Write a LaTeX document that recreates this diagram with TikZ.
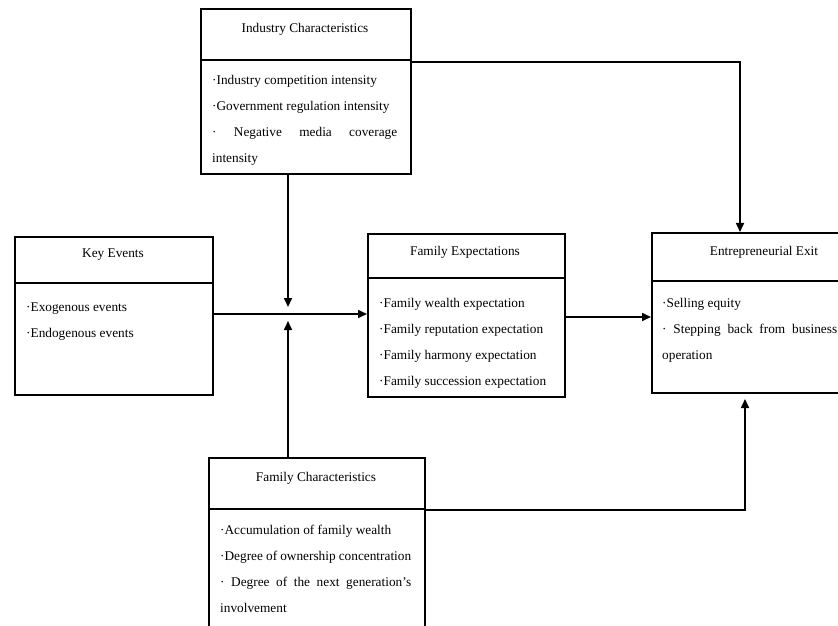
\documentclass[tikz,border=0pt]{standalone}
\usepackage{fontspec}
\setmainfont{Liberation Serif}
\usetikzlibrary{arrows.meta}
\begin{document}
\begin{tikzpicture}[x=1bp,y=-1bp,
  box/.style={draw, line width=1.6bp, rectangle, anchor=north west, inner sep=0pt},
  title/.style={font=\fontsize{13.3bp}{16bp}\selectfont, inner sep=0pt},
  items/.style={font=\fontsize{13.3bp}{26bp}\selectfont, inner sep=0pt, anchor=north west, align=justify},
  divider/.style={line width=1.6bp},
  arr/.style={line width=1.6bp, -{Triangle[length=9bp,width=8bp]}}]
\useasboundingbox (0,0) rectangle (838,626);
\fill[white] (0,0) rectangle (838,626);
% boxes
\node[box, minimum width=210bp, minimum height=165bp] (ind) at (200,8) {};
\node[box, minimum width=198bp, minimum height=158bp] (key) at (14,236) {};
\node[box, minimum width=197bp, minimum height=163bp] (exp) at (367,233) {};
\node[box, minimum width=230bp, minimum height=160bp] (exit) at (651,232) {};
\node[box, minimum width=216bp, minimum height=200bp] (fam) at (208,457) {};
% dividers
\draw[divider] (ind.west |- 0,60) -- (ind.east |- 0,60);
\draw[divider] (key.west |- 0,283) -- (key.east |- 0,283);
\draw[divider] (exp.west |- 0,278) -- (exp.east |- 0,278);
\draw[divider] (exit.west |- 0,281) -- (exit.east |- 0,281);
\draw[divider] (fam.west |- 0,509) -- (fam.east |- 0,509);
% titles
\node[title] (indt) at (305,29) {Industry Characteristics};
\node[title] (keyt) at (113,255) {Key Events};
\node[title] (expt) at (465,252) {Family Expectations};
\node[title] (exitt) at (764,252) {Entrepreneurial Exit};
\node[title] (famt) at (316,478) {Family Characteristics};
% items
\node[items, text width=185bp] (indi) at (212,75.5) {\textperiodcentered Industry competition intensity\\
\textperiodcentered Government regulation intensity\\
\textperiodcentered\ Negative media coverage\linebreak intensity};
\node[items, text width=170bp] (keyi) at (26,302.5) {\textperiodcentered Exogenous events\\
\textperiodcentered Endogenous events};
\node[items, text width=175bp] (expi) at (379,298.5) {\textperiodcentered Family wealth expectation\\
\textperiodcentered Family reputation expectation\\
\textperiodcentered Family harmony expectation\\
\textperiodcentered Family succession expectation};
\node[items, text width=175bp] (exiti) at (662,298.5) {\textperiodcentered Selling equity\\
\textperiodcentered\ Stepping back from business\linebreak operation};
\node[items, text width=191bp] (fami) at (220,524.5) {\textperiodcentered Accumulation of family wealth\\
\textperiodcentered Degree of ownership concentration\\
\textperiodcentered\ Degree of the next generation's\linebreak involvement};
% connectors
\coordinate (c1) at (740,62);
\draw[arr] (ind.east |- 0,62) -- (c1) -- (exit.north -| c1);
\coordinate (jd) at (288,307);
\coordinate (ju) at (288,321);
\draw[arr] (ind.south -| jd) -- (jd);
\draw[arr] (fam.north -| ju) -- (ju);
\draw[arr] (key.east |- 0,314) -- (exp.west |- 0,314);
\draw[arr] (exp.east |- 0,317) -- (exit.west |- 0,317);
\coordinate (c2) at (745,510);
\coordinate (c3) at (745,399);
\draw[arr] (fam.east |- c2) -- (c2) -- (c3);
\end{tikzpicture}
\end{document}
